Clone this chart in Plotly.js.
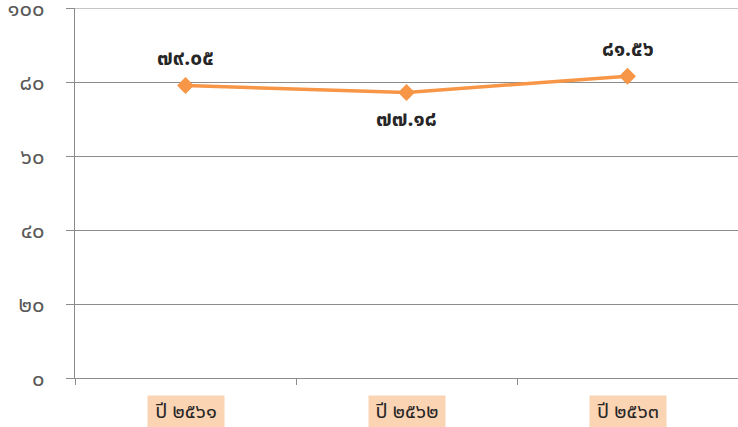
<!DOCTYPE html>
<html><head><meta charset="utf-8">
<script src="https://cdn.plot.ly/plotly-3.0.1.min.js"></script>
<style>html,body{margin:0;padding:0;background:#fff}#c{width:738px;height:427px}</style>
</head><body><div id="c"></div>
<script>
const categories = ["ปี ๒๕๖๑", "ปี ๒๕๖๒", "ปี ๒๕๖๓"];
const values = [79.05, 77.18, 81.56];
const valueLabels = ["๗๙.๐๕", "๗๗.๑๘", "๘๑.๕๖"];
const labelSides = [1, -1, 1];
const yTickVals = [0, 20, 40, 60, 80, 100];
const yTickText = ["๐", "๒๐", "๔๐", "๖๐", "๘๐", "๑๐๐"];

const FONT = "Tahoma, 'Noto Sans Thai', 'Noto Sans', 'DejaVu Sans', sans-serif";

const trace = {
  x: categories, y: values, type: "scatter", mode: "lines+markers",
  line: {color: "#F79646", width: 3.5},
  marker: {symbol: "diamond", size: 13, color: "#F79646"},
  hoverinfo: "none", cliponaxis: false
};

const annotations = [];
categories.forEach((c, i) => {
  annotations.push({
    x: c, y: values[i], xref: "x", yref: "y", text: "<b>" + valueLabels[i] + "</b>", showarrow: false,
    yshift: labelSides[i] * 27, font: {family: FONT, size: 21, color: "#262626"}
  });
  annotations.push({
    x: c, y: 0, xref: "x", yref: "paper", text: c, showarrow: false,
    yanchor: "top", yshift: -17, width: 74, height: 30, bgcolor: "#FBD4B4",
    font: {family: FONT, size: 20, color: "#262626"}
  });
});

const layout = {
  width: 738, height: 427,
  margin: {l: 75, r: 0, t: 8, b: 49},
  paper_bgcolor: "#fff", plot_bgcolor: "#fff",
  showlegend: false,
  font: {family: FONT},
  xaxis: {
    type: "category", range: [-0.5, 2.5], tickson: "boundaries", ticks: "outside", ticklen: 6,
    tickcolor: "#8c8c8c", showgrid: false, showline: true, linecolor: "#8c8c8c",
    linewidth: 1, showticklabels: false, zeroline: false, fixedrange: true
  },
  yaxis: {
    range: [0, 100], tickvals: yTickVals, ticktext: yTickText,
    ticks: "outside", ticklen: 8, tickcolor: "#8c8c8c",
    showgrid: true, gridcolor: "#8c8c8c", gridwidth: 1,
    showline: true, linecolor: "#8c8c8c", zeroline: false, mirror: false,
    ticklabelstandoff: 17, ticklabeloverflow: "allow",
    tickfont: {family: FONT, size: 22, color: "#595959"}, fixedrange: true
  },
  shapes: [{type: "line", xref: "paper", yref: "y", x0: 0, x1: 1, y0: 100, y1: 100,
            line: {color: "#8c8c8c", width: 1}}],
  annotations: annotations
};

Plotly.newPlot("c", [trace], layout, {displayModeBar: false, staticPlot: true});
</script></body></html>
